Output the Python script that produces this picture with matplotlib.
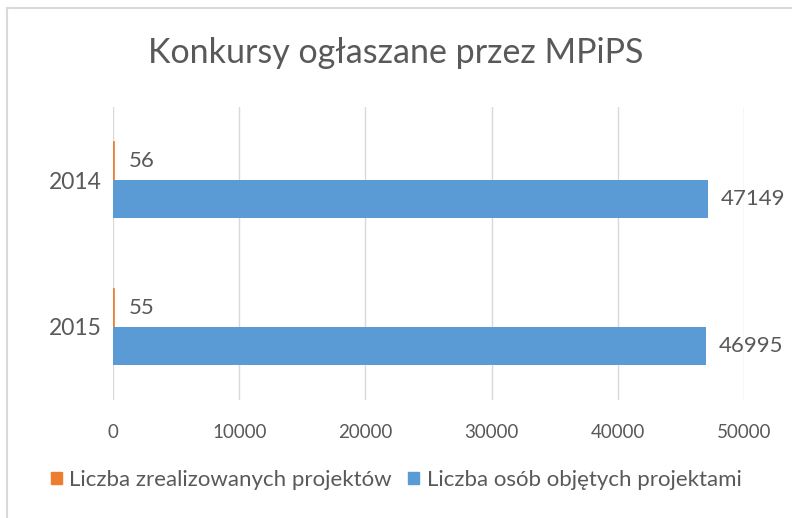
import matplotlib.pyplot as plt
from matplotlib.lines import Line2D
from matplotlib.patches import Patch

years = ['2014', '2015']
projekty = [56, 55]
osoby = [47149, 46995]
series_names = ['Liczba zrealizowanych projektów', 'Liczba osób objętych projektami']
xticks = [0, 10000, 20000, 30000, 40000, 50000]

plt.rcParams['font.family'] = ['Lato', 'DejaVu Sans']
txt = '#595959'
orange = '#ED7D31'
blue = '#5B9BD5'

fig = plt.figure(figsize=(7.92, 5.18), dpi=100)
ax = fig.add_axes([113/792, 1-400/518, (744-113)/792, (400-107)/518])

h = 0.26
pos = list(range(len(years)))
# orange values are tiny, give them an edge so they show like in Excel
ax.barh([p - h/2 for p in pos], projekty, height=h, color=orange,
        edgecolor=orange, linewidth=1.2, zorder=3)
ax.barh([p + h/2 for p in pos], osoby, height=h, color=blue, zorder=3)

for p, v in zip(pos, projekty):
    ax.annotate(str(v), (v, p - h/2), xytext=(11, 0), textcoords='offset points',
                va='center', ha='left', fontsize=16, color=txt)
for p, v in zip(pos, osoby):
    ax.annotate(str(v), (v, p + h/2), xytext=(9, 0), textcoords='offset points',
                va='center', ha='left', fontsize=16, color=txt)

ax.set_xlim(0, 50000)
ax.set_ylim(1.5, -0.5)
ax.set_xticks(xticks)
ax.set_xticklabels([str(t) for t in xticks])
ax.set_yticks(pos)
ax.set_yticklabels(years)
ax.tick_params(axis='x', length=0, labelsize=13.5, labelcolor=txt, pad=17)
ax.tick_params(axis='y', length=0, labelsize=16.5, labelcolor=txt, pad=8)
ax.grid(axis='x', color='#D9D9D9', linewidth=1, zorder=0)
for s in ax.spines.values():
    s.set_visible(False)

fig.text(0.5, 1-53/518, 'Konkursy ogłaszane przez MPiPS', ha='center', va='center',
         fontsize=24.5, color=txt)

handles = [Patch(color=orange), Patch(color=blue)]
fig.legend(handles, series_names, loc='center', bbox_to_anchor=(0.5, 1-480/518),
           ncol=2, frameon=False, fontsize=16, labelcolor=txt,
           handlelength=0.5, handleheight=0.5, handletextpad=0.35, columnspacing=0.7)

# chart border (top and left edges visible in the crop)
fig.add_artist(Line2D([7/792, 1], [1-8/518, 1-8/518], color='#D9D9D9', linewidth=1.5))
fig.add_artist(Line2D([7/792, 7/792], [0, 1-8/518], color='#D9D9D9', linewidth=1.5))

fig.savefig('out.png', dpi=100)
